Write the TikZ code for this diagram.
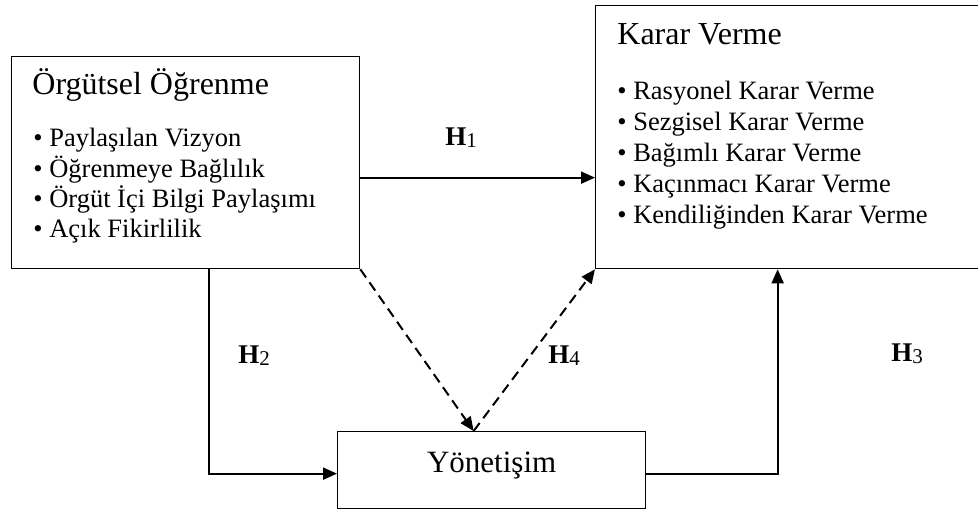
\documentclass[tikz,border=0pt]{standalone}
\usepackage{fontspec}
\setmainfont{Liberation Serif}
\usetikzlibrary{arrows.meta}

\begin{document}
\begin{tikzpicture}[x=1pt, y=-1pt, thick]
        \tikzstyle{kutu}=[rectangle,draw=black,line width=1.3pt,inner sep=0pt,anchor=north west]
        \tikzstyle{baslik}=[inner sep=0pt,anchor=base west,font=\fontsize{32}{36}\selectfont]
        \tikzstyle{madde}=[inner sep=0pt,anchor=base west,font=\fontsize{26.5}{30}\selectfont]
        \tikzstyle{hipotez}=[inner sep=0pt,anchor=base west,font=\fontsize{27}{30}\selectfont\bfseries]
        \tikzstyle{ok}=[line width=2pt,-{Triangle[length=14pt,width=12pt]}]
        \tikzstyle{kesikok}=[ok,dash pattern=on 10pt off 6pt]

        \useasboundingbox (0,0) rectangle (978,510);

        \node[kutu, minimum width=348pt, minimum height=212pt] (ol) at (11,56) {};
        \node[kutu, minimum width=390pt, minimum height=263pt] (kv) at (595,5) {};
        \node[kutu, minimum width=308pt, minimum height=77pt] (yon) at (337,431) {};

        \node[baslik] (olbaslik) at (32,95) {Örgütsel Öğrenme};
        \foreach \t [count=\i] in {Paylaşılan Vizyon, Öğrenmeye Bağlılık, Örgüt İçi Bilgi Paylaşımı, Açık Fikirlilik}
            \node[madde] (olmadde\i) at (33,116.7+30.3*\i) {• \t};

        \node[baslik] (kvbaslik) at (617,45) {Karar Verme};
        \foreach \t [count=\i] in {Rasyonel Karar Verme, Sezgisel Karar Verme, Bağımlı Karar Verme, Kaçınmacı Karar Verme, Kendiliğinden Karar Verme}
            \node[madde] (kvmadde\i) at (617,69+31*\i) {• \t};

        \node[inner sep=0pt, anchor=base, font=\fontsize{31}{34}\selectfont] (yonyazi) at ([yshift=-2.5pt]yon.center) {Yönetişim};

        \node[hipotez] (h1) at (445,146) {H\raisebox{-2pt}{\fontsize{21}{21}\selectfont\mdseries 1}};
        \node[hipotez] (h2) at (238,364) {H\raisebox{-2pt}{\fontsize{21}{21}\selectfont\mdseries 2}};
        \node[hipotez] (h3) at (891,362) {H\raisebox{-2pt}{\fontsize{21}{21}\selectfont\mdseries 3}};
        \node[hipotez] (h4) at (548,364) {H\raisebox{-2pt}{\fontsize{21}{21}\selectfont\mdseries 4}};

        \draw[ok] ([yshift=-15pt]ol.east) -- ([yshift=-15pt]ol.east -| kv.west);
        \draw[ok] ([xshift=23pt]ol.south) |- ([yshift=-3.5pt]yon.west);
        \draw[ok] ([yshift=-3.5pt]yon.east) -| ([xshift=-13pt]kv.south);
        \draw[kesikok] (ol.south east) -- ([xshift=-18pt]yon.north);
        \draw[kesikok] ([xshift=-18pt]yon.north) -- (kv.south west);
    \end{tikzpicture}
\end{document}
